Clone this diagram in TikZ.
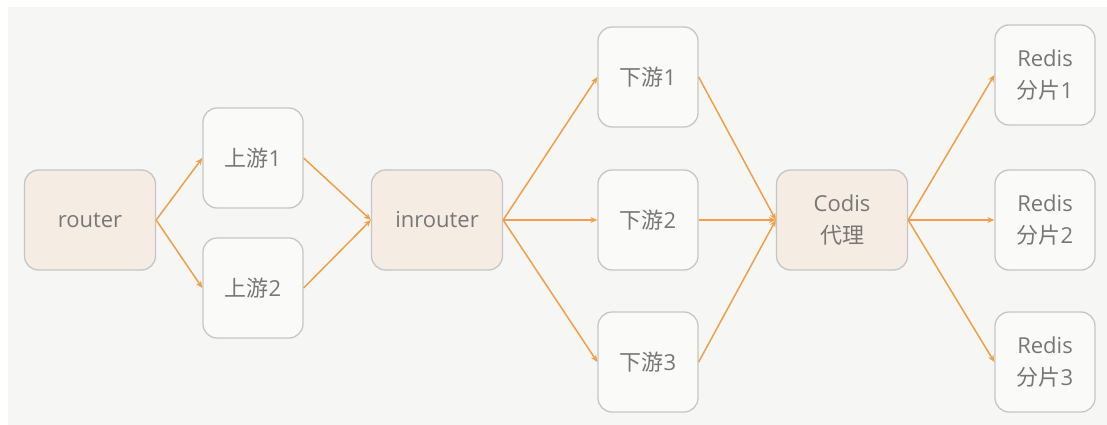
\documentclass[tikz,border=0pt]{standalone}
\usepackage{fontspec}
\setmainfont{Open Sans}
\newfontfamily\cjk{Noto Sans CJK SC}
\usetikzlibrary{arrows.meta}
\definecolor{bgc}{HTML}{F6F6F4}
\definecolor{peach}{HTML}{F5ECE3}
\definecolor{plain}{HTML}{FAFAF9}
\definecolor{bord}{HTML}{C6C6C4}
\definecolor{txt}{HTML}{777777}
\definecolor{arr}{HTML}{F0A048}
\tikzset{
  box/.style={draw=bord, line width=1.3pt, rounded corners=14pt, fill=plain,
    minimum width=100pt, minimum height=100pt, inner sep=0pt, align=center,
    text=txt, font=\fontsize{22}{32}\selectfont},
  hub/.style={box, fill=peach, minimum width=131pt},
  conn/.style={draw=arr, line width=1.5pt, -{Stealth[length=7pt,width=6pt]}}
}
\begin{document}
\begin{tikzpicture}[x=1pt,y=-1pt]
\useasboundingbox (0,0) rectangle (1107,425);
\fill[white] (0,0) rectangle (1107,425);
\fill[bgc] (8,7) rectangle (1107,425);
\node[hub] (router) at (90,220) {router};
\node[box] (up1) at (253,158) {{\cjk 上游}1};
\node[box] (up2) at (253,288) {{\cjk 上游}2};
\node[hub] (inr) at (437,220) {inrouter};
\node[box] (d1) at (648,77) {{\cjk 下游}1};
\node[box] (d2) at (648,220) {{\cjk 下游}2};
\node[box] (d3) at (648,362) {{\cjk 下游}3};
\node[hub] (codis) at (842,220) {Codis\\{\cjk 代理}};
\node[box] (r1) at (1045,75) {Redis\\{\cjk 分片}1};
\node[box] (r2) at (1045,220) {Redis\\{\cjk 分片}2};
\node[box] (r3) at (1045,362) {Redis\\{\cjk 分片}3};
\draw[conn] (router.east) -- (up1.west);
\draw[conn] (router.east) -- (up2.west);
\draw[conn] (up1.east) -- (inr.west);
\draw[conn] (up2.east) -- (inr.west);
\draw[conn] (inr.east) -- (d1.west);
\draw[conn] (inr.east) -- (d2.west);
\draw[conn] (inr.east) -- (d3.west);
\draw[conn] (d1.east) -- (codis.west);
\draw[conn] (d2.east) -- (codis.west);
\draw[conn] (d3.east) -- (codis.west);
\draw[conn] (codis.east) -- (r1.west);
\draw[conn] (codis.east) -- (r2.west);
\draw[conn] (codis.east) -- (r3.west);
\end{tikzpicture}
\end{document}
